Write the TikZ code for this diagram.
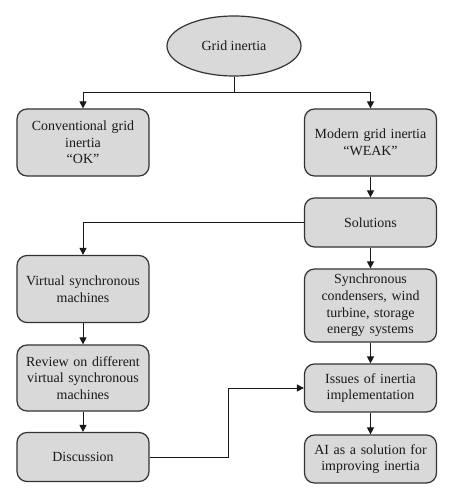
\documentclass[tikz,border=0pt]{standalone}
\usepackage{fontspec}
\setmainfont{Liberation Serif}
\usetikzlibrary{arrows.meta,shapes.geometric}
\begin{document}
\begin{tikzpicture}[x=1bp,y=-1bp,
  box/.style={draw=black!80, fill=black!15, line width=1.2bp, rounded corners=10bp,
    minimum width=132bp, text width=128bp, align=center, inner sep=0pt,
    font=\fontsize{14}{16.7}\selectfont, text=black!90},
  conn/.style={line width=0.9bp, draw=black!90, -{Triangle[length=7bp,width=7bp]}},
  plain/.style={line width=0.9bp, draw=black!90}]
\useasboundingbox (0,0) rectangle (453,500);
\node[ellipse, draw=black!80, fill=black!15, line width=1.2bp, minimum width=134bp, minimum height=60bp, inner sep=0pt,
  font=\fontsize{14}{16.7}\selectfont, text=black!90] (grid) at (234,46) {Grid inertia};
\node[box, minimum height=67bp] (conv) at (83,142.5) {Conventional grid\\inertia\\``OK''};
\node[box, minimum height=67bp] (modern) at (370.5,142.5) {Modern grid inertia\\``WEAK''};
\node[box, minimum height=49bp] (sol) at (370.5,222.5) {Solutions};
\node[box, minimum height=67bp] (vsm) at (83,289) {Virtual synchronous\\machines};
\node[box, minimum height=73bp] (sync) at (370.5,305.5) {Synchronous\\condensers, wind\\turbine, storage\\energy systems};
\node[box, minimum height=66bp] (review) at (83,378) {Review on different\\virtual synchronous\\machines};
\node[box, minimum height=49bp] (disc) at (83,457) {Discussion};
\node[box, minimum height=48bp] (issues) at (370.5,388) {Issues of inertia\\implementation};
\node[box, minimum height=48bp] (ai) at (370.5,459) {AI as a solution for\\improving inertia};
\coordinate (split) at (234,92);
\coordinate (bend) at (228.7,420);
\draw[plain] (grid.south) -- (split);
\draw[conn] (split) -| (conv.north);
\draw[conn] (split) -| (modern.north);
\draw[conn] (modern) -- (sol);
\draw[conn] (sol.west) -| (vsm.north);
\draw[conn] (sol) -- (sync);
\draw[conn] (vsm) -- (review);
\draw[conn] (review) -- (disc);
\draw[conn] (sync) -- (issues);
\draw[conn] (issues) -- (ai);
\draw[conn] (disc.east) -- (disc.east -| bend) |- (issues.west);
\end{tikzpicture}
\end{document}
